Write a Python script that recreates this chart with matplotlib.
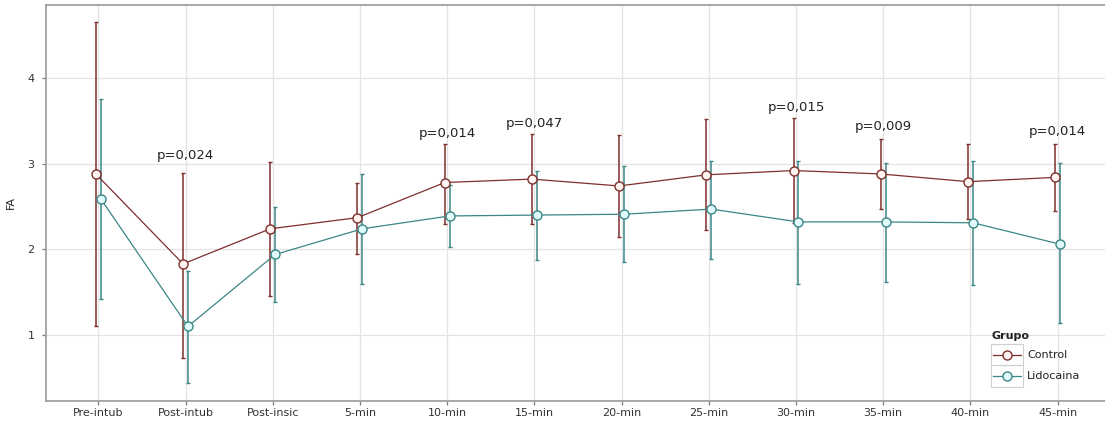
import matplotlib
matplotlib.use("Agg")
import matplotlib.pyplot as plt
from matplotlib.lines import Line2D
from matplotlib.patches import Rectangle
import numpy as np

categories = ["Pre-intub", "Post-intub", "Post-insic", "5-min", "10-min", "15-min",
              "20-min", "25-min", "30-min", "35-min", "40-min", "45-min"]

control_mean = [2.88, 1.83, 2.24, 2.37, 2.78, 2.82, 2.74, 2.87, 2.92, 2.88, 2.79, 2.84]
control_up   = [4.65, 2.89, 3.02, 2.78, 3.23, 3.35, 3.34, 3.52, 3.53, 3.29, 3.23, 3.23]
control_low  = [1.11, 0.73, 1.455, 1.945, 2.30, 2.30, 2.14, 2.22, 2.31, 2.47, 2.35, 2.45]

lido_mean = [2.59, 1.10, 1.94, 2.24, 2.39, 2.40, 2.41, 2.47, 2.32, 2.32, 2.31, 2.06]
lido_up   = [3.75, 1.75, 2.49, 2.88, 2.75, 2.91, 2.97, 3.03, 3.03, 3.01, 3.03, 3.01]
lido_low  = [1.42, 0.44, 1.38, 1.60, 2.03, 1.88, 1.85, 1.89, 1.59, 1.62, 1.58, 1.14]

groups = ["Control", "Lidocaina"]

p_index = [1, 4, 5, 8, 9, 11]
p_text = ["p=0,024", "p=0,014", "p=0,047", "p=0,015", "p=0,009", "p=0,014"]
p_y = [3.10, 3.35, 3.47, 3.66, 3.43, 3.37]

c_ctrl = "#7e2f2c"
c_lido = "#3b8686"
f_ctrl = "#fff4f2"
f_lido = "#e2fbfb"

W, H = 1105, 421
fig = plt.figure(figsize=(W / 100, H / 100), dpi=100)
left, right, top, bottom = 45.7, 1110, 4.7, 400.7
ax = fig.add_axes([left / W, 1 - bottom / H, (right - left) / W, (bottom - top) / H])

x = np.arange(len(categories))
dodge = 0.028

for xs, m, up, lo, col, fc in [
    (x - dodge, control_mean, control_up, control_low, c_ctrl, f_ctrl),
    (x + dodge, lido_mean, lido_up, lido_low, c_lido, f_lido),
]:
    m = np.array(m); up = np.array(up); lo = np.array(lo)
    ax.errorbar(xs, m, yerr=[m - lo, up - m], fmt="none", ecolor=col,
                elinewidth=1.1, capsize=1.7, capthick=1.0, zorder=3)
    ax.plot(xs, m, color=col, lw=0.9, zorder=4)
    ax.plot(xs, m, "o", ms=6.5, mfc=fc, mec=col, mew=1.0, zorder=5, ls="none")

for i, t, yv in zip(p_index, p_text, p_y):
    ax.text(i, yv, t, ha="center", va="center", fontsize=9.5, color="#222222")

ax.set_xlim(-0.603, 11.6)
ax.set_ylim(0.233, 4.856)
ax.set_xticks(x)
ax.set_xticklabels(categories)
ax.set_yticks([1, 2, 3, 4])
ax.set_yticklabels(["1", "2", "3", "4"])
ax.grid(True, color="#e3e3e3", lw=0.9, zorder=0)
ax.set_axisbelow(True)
for s in ax.spines.values():
    s.set_color("#a0a0a0")
    s.set_linewidth(1.3)
ax.tick_params(axis="both", colors="#7a7a7a", length=3, width=0.9,
               labelcolor="#333333", labelsize=8)
ax.tick_params(axis="x", pad=2)
ax.tick_params(axis="y", pad=5)
ax.set_ylabel("FA", fontsize=8, color="#222222", labelpad=8)

# legend (ggplot style, keys in grey boxes)
def fx(px):
    return px / W

def fy(py):
    return 1 - py / H

fig.text(fx(992), fy(336), "Grupo", fontsize=8, fontweight="bold",
         ha="left", va="center", color="#222222")
rows = [354.5, 376]
for (g, col, fc), yc in zip([(groups[0], c_ctrl, f_ctrl), (groups[1], c_lido, f_lido)], rows):
    fig.patches.append(Rectangle((fx(991), fy(yc + 10.8)), fx(1023) - fx(991),
                                 (21.6) / H, transform=fig.transFigure,
                                 fill=False, edgecolor="#cfcfcf", lw=0.8))
    fig.lines.append(Line2D([fx(993), fx(1021)], [fy(yc), fy(yc)], color=col, lw=0.9,
                            transform=fig.transFigure))
    fig.lines.append(Line2D([fx(1007)], [fy(yc)], marker="o", ms=6.5, mfc=fc, mec=col,
                            mew=1.0, transform=fig.transFigure, ls="none"))
    fig.text(fx(1027), fy(yc), g, fontsize=8, ha="left", va="center", color="#222222")

fig.savefig("out.png", dpi=100)
